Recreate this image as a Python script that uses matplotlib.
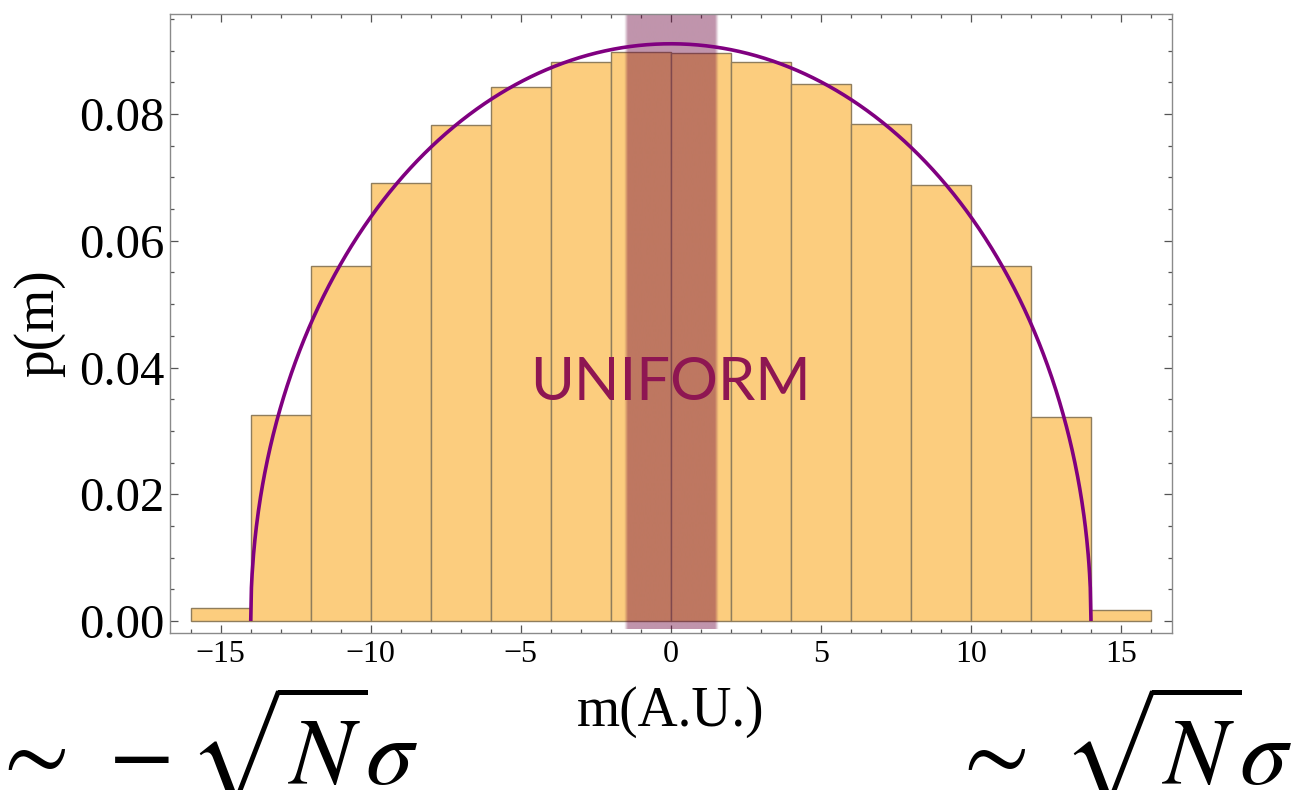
import matplotlib
matplotlib.use("Agg")
import matplotlib.pyplot as plt
import numpy as np
from matplotlib.ticker import MultipleLocator, FormatStrFormatter

plt.rcParams['font.family'] = ['Liberation Serif', 'DejaVu Serif']
plt.rcParams['mathtext.fontset'] = 'stix'
plt.rcParams['axes.unicode_minus'] = True

# histogram of m, bins of width 2
bin_edges = [-16, -14, -12, -10, -8, -6, -4, -2, 0, 2, 4, 6, 8, 10, 12, 14, 16]
bin_heights = [0.0020, 0.0325, 0.0560, 0.0691, 0.0783, 0.0842, 0.0883, 0.0898,
               0.0896, 0.0882, 0.0847, 0.0785, 0.0688, 0.0560, 0.0322, 0.0017]

# semicircle law: support radius and peak height
radius = 14.0
peak = 0.0911

# shaded "uniform" window around m = 0
band_lo, band_hi = -1.5, 1.5

fig = plt.figure(figsize=(12.94, 7.90), dpi=100)
ax = fig.add_axes([170 / 1294, 1 - 633 / 790, 1002 / 1294, 619 / 790])

edges = np.array(bin_edges)
ax.bar(edges[:-1], bin_heights, width=np.diff(edges), align='edge',
       color='#FCCD7E', edgecolor='#8F7D5C', linewidth=1.0, zorder=1)

# translucent band with slightly soft edges
xlim = (-16.69, 16.70)
ylim = (-0.0019, 0.0958)
xs = np.linspace(band_lo - 0.2, band_hi + 0.2, 400)
soft = 0.06
dist = np.minimum(xs - band_lo, band_hi - xs)
alpha = 0.42 * np.clip(0.5 + dist / (2 * soft), 0, 1)
rgba = np.zeros((1, xs.size, 4))
rgba[..., 0] = 105 / 255
rgba[..., 1] = 0.0
rgba[..., 2] = 57 / 255
rgba[..., 3] = alpha
ax.imshow(rgba, extent=(xs[0], xs[-1], -0.0013, ylim[1]), aspect='auto',
          interpolation='bilinear', zorder=2)

m = np.linspace(-radius, radius, 1201)
p = peak * np.sqrt(np.clip(1 - (m / radius) ** 2, 0, None))
ax.plot(m, p, color='#800080', linewidth=2.6, zorder=3, solid_capstyle='butt')

ax.text(0, 0.0376, 'UNIFORM', family=['Lato', 'DejaVu Sans'], weight='normal',
        fontsize=43, color='#8E1652', ha='center', va='center', zorder=4)

ax.set_xlim(*xlim)
ax.set_ylim(*ylim)

ax.xaxis.set_major_locator(MultipleLocator(5))
ax.xaxis.set_minor_locator(MultipleLocator(1))
ax.yaxis.set_major_locator(MultipleLocator(0.02))
ax.yaxis.set_minor_locator(MultipleLocator(0.005))
ax.yaxis.set_major_formatter(FormatStrFormatter('%.2f'))

ax.tick_params(which='both', direction='in', top=True, right=True,
               color='#555555', width=0.9)
ax.tick_params(which='major', length=5.5)
ax.tick_params(which='minor', length=3.0)
ax.tick_params(axis='x', which='major', labelsize=23, pad=5)
ax.tick_params(axis='y', which='major', labelsize=35, pad=4)

for s in ax.spines.values():
    s.set_color('#8a8a8a')
    s.set_linewidth(1.0)

ax.set_xlabel('m(A.U.)', fontsize=40)
ax.xaxis.set_label_coords(0.5, -0.085)
ax.xaxis.label.set_va('top')
ax.set_ylabel('p(m)', fontsize=40)
ax.yaxis.set_label_coords(-0.105, 0.5)

fig.text(-0.008, 0.006, r'$\sim\, -\sqrt{N}\sigma$', fontsize=69, ha='left', va='baseline')
fig.text(1292 / 1294, 0.006, r'$\sim\;\sqrt{N}\sigma$', fontsize=69, ha='right', va='baseline')

fig.savefig('out.png', dpi=100)
